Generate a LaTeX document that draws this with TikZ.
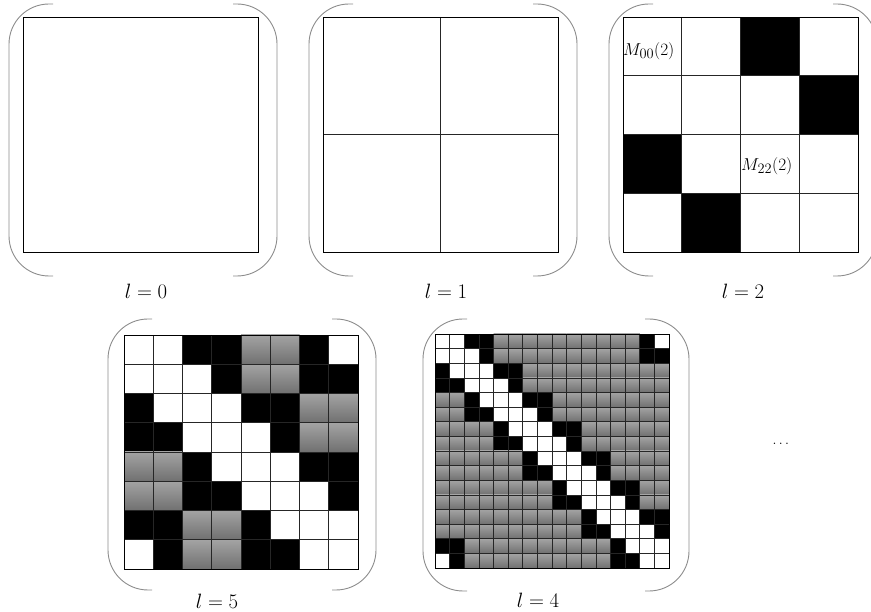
\documentclass[tikz,border=0pt]{standalone}
\usepackage{amsmath}
\tikzset{
  bracket/.style={draw=black!45, line width=0.9pt, rounded corners=40pt},
  frame/.style={draw=black, line width=0.9pt},
  gridline/.style={draw=black!85, line width=0.7pt},
  graycell/.style={top color=black!36, bottom color=black!56, draw=none},
  blackcell/.style={fill=black, draw=none},
  lab/.style={font=\fontsize{20}{22}\selectfont, inner sep=0pt},
  mlab/.style={font=\fontsize{19}{21}\selectfont, inner sep=0pt, anchor=west},
}
% #1 x0, #2 y0, #3 size, #4 N
\newcommand\panelgrid[4]{%
  \pgfmathsetmacro\cs{#3/#4}%
  \pgfmathtruncatemacro\Nm{#4-1}%
  \ifnum#4>3
  \foreach \rr in {0,...,\Nm}{%
    \foreach \cc in {0,...,\Nm}{%
      \pgfmathtruncatemacro\dd{mod(\cc-\rr+2*#4,#4)}%
      \pgfmathtruncatemacro\oo{mod(\rr,2)}%
      \pgfmathtruncatemacro\ww{(\dd==0)||(\dd==1)||(\dd==#4-1)}%
      \pgfmathtruncatemacro\bb{(\dd==2)||(\dd==#4-2)||((\oo==0)&&(\dd==3))||((\oo==1)&&(\dd==#4-3))}%
      \ifnum\ww=1\relax\else
        \ifnum\bb=1
          \fill[blackcell] (#1+\cc*\cs,#2+\rr*\cs) rectangle (#1+\cc*\cs+\cs,#2+\rr*\cs+\cs);
        \else
          \shade[graycell] (#1+\cc*\cs,#2+\rr*\cs) rectangle (#1+\cc*\cs+\cs,#2+\rr*\cs+\cs);
        \fi
      \fi
    }%
  }%
  \fi
  \ifnum#4>1
  \foreach \k in {1,...,\Nm}{%
    \draw[gridline] (#1+\k*\cs,#2) -- (#1+\k*\cs,#2+#3);
    \draw[gridline] (#1,#2+\k*\cs) -- (#1+#3,#2+\k*\cs);
  }%
  \fi
  \draw[frame] (#1,#2) rectangle (#1+#3,#2+#3);
}
% #1 xl, #2 yt, #3 xr, #4 yb
\newcommand\panelbrackets[4]{%
  \draw[bracket] (#1+44,#2) -- (#1,#2) -- (#1,#4) -- (#1+44,#4);
  \draw[bracket] (#3-44,#2) -- (#3,#2) -- (#3,#4) -- (#3-44,#4);
}
\begin{document}
\begin{tikzpicture}[x=1pt,y=-1pt]
\useasboundingbox (0,0) rectangle (871,612);
\clip (0,0) rectangle (871,612);
% top row
\panelbrackets{9}{4}{277}{276}
\panelgrid{23}{17}{235}{1}
\node[lab] (l0) at (146,291) {$l=0$};

\panelbrackets{309}{4}{577}{276}
\panelgrid{323}{17}{235}{2}
\node[lab] (l1) at (446,291) {$l=1$};

\panelbrackets{609}{4}{877}{276}
\panelgrid{623}{17}{235}{4}
\node[mlab] (m00) at (623,51) {$M_{00}(2)$};
\node[mlab] (m22) at (741,166) {$M_{22}(2)$};
\node[lab] (l2) at (743,291) {$l=2$};

% bottom row
\panelbrackets{108}{319}{376}{590}
\panelgrid{124}{335}{234}{8}
\node[lab] (l5) at (217,601) {$l=5$};

\panelbrackets{423}{319}{689}{591}
\panelgrid{435}{334}{234}{16}
\node[lab] (l4) at (538,600) {$l=4$};

\node[font=\fontsize{14}{16}\selectfont, inner sep=0pt] (dots) at (782,444) {$\dots$};
\end{tikzpicture}
\end{document}
